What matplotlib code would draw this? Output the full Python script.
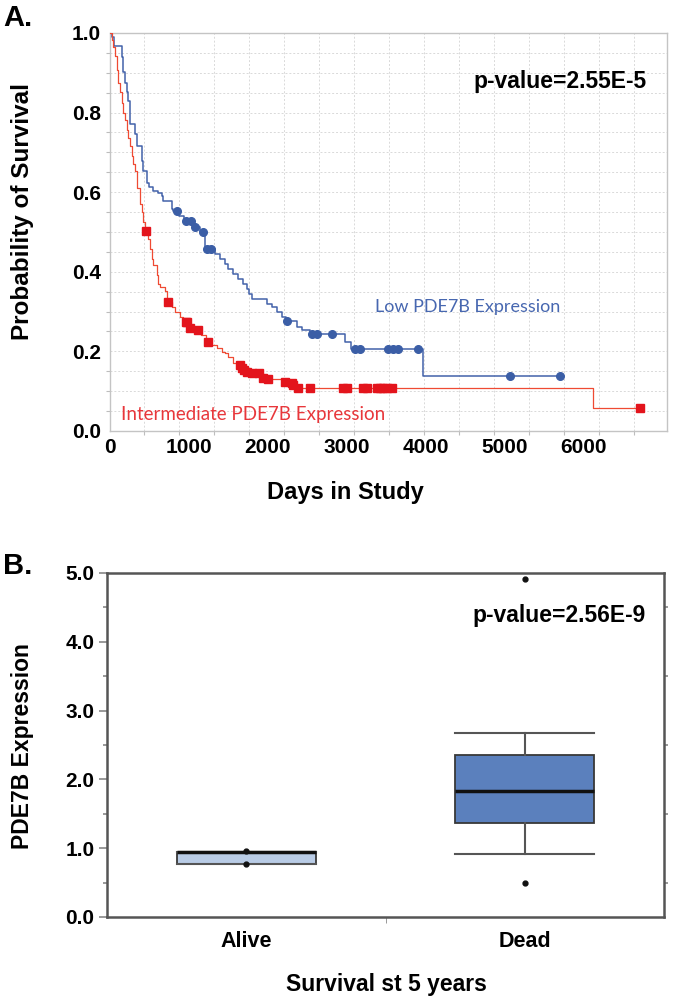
import matplotlib
matplotlib.use("Agg")
import matplotlib.pyplot as plt
from matplotlib.ticker import MultipleLocator, FixedLocator
import numpy as np

# ---------------- data ----------------
# Panel A: Kaplan-Meier step curves (days, survival after step)
low_t = [0, 27, 53, 154, 168, 199, 222, 239, 260, 323, 353, 408, 428, 470, 496, 555, 618, 660, 681, 787,
         808, 886, 939, 1063, 1143, 1209, 1335, 1399, 1462, 1504, 1567, 1630, 1694, 1737, 1772, 1799, 1989,
         2053, 2116, 2180, 2233, 2369, 2432, 2538, 2981, 3057, 3964]
low_s = [1.0, 0.99, 0.9675, 0.94, 0.903, 0.875, 0.853, 0.83, 0.7725, 0.745, 0.717, 0.678, 0.653, 0.624, 0.612,
         0.603, 0.599, 0.591, 0.578, 0.5575, 0.552, 0.54, 0.527, 0.513, 0.501, 0.4575, 0.445, 0.4325, 0.42,
         0.4075, 0.395, 0.3825, 0.37, 0.3575, 0.345, 0.3325, 0.32, 0.312, 0.299, 0.287, 0.276, 0.262, 0.253,
         0.244, 0.224, 0.205, 0.138]
low_cens_t = [851, 968, 1028, 1082, 1187, 1230, 1285, 2250, 2559, 2623, 2812, 3107, 3171, 3529, 3593, 3656,
              3907, 5069, 5702]

int_t = [0, 27, 49, 70, 90, 112, 133, 154, 175, 196, 217, 238, 260, 281, 301, 323, 344, 354, 386, 408,
         428, 447, 492, 513, 533, 555, 597, 618, 639, 703, 727, 787, 829, 892, 935, 957, 1010, 1090, 1152,
         1223, 1272, 1356, 1418, 1462, 1504, 1567, 1610, 1666, 1692, 1737, 1790, 1940, 1994, 2197, 2295,
         2321, 2383, 6116]
int_s = [1.0, 0.9825, 0.966, 0.941, 0.9075, 0.874, 0.853, 0.824, 0.799, 0.7825, 0.7575, 0.737, 0.716, 0.691,
         0.67, 0.653, 0.6325, 0.61, 0.57, 0.55, 0.524, 0.503, 0.4825, 0.4575, 0.4325, 0.416, 0.391, 0.37,
         0.362, 0.353, 0.324, 0.312, 0.299, 0.287, 0.278, 0.274, 0.26, 0.255, 0.24, 0.2225, 0.216, 0.2075,
         0.199, 0.195, 0.187, 0.17, 0.166, 0.159, 0.153, 0.149, 0.145, 0.1325, 0.131, 0.124, 0.12, 0.116,
         0.109, 0.0575]
int_cens_t = [458, 744, 968, 985, 1019, 1124, 1242, 1652, 1673, 1702, 1745, 1807, 1893, 1947, 2010, 2221,
              2305, 2327, 2390, 2538, 2959, 3002, 3213, 3255, 3382, 3424, 3466, 3509, 3571, 6715]

km_xticks = [0, 1000, 2000, 3000, 4000, 5000, 6000]
km_yticks = [0.0, 0.2, 0.4, 0.6, 0.8, 1.0]
km_pvalue = "p-value=2.55E-5"
low_label = "Low PDE7B Expression"
int_label = "Intermediate PDE7B Expression"

# Panel B: box plot summary statistics
groups = ["Alive", "Dead"]
box_q1 = [0.77, 1.36]
box_med = [0.94, 1.825]
box_q3 = [0.95, 2.355]
box_whislo = [0.77, 0.915]
box_whishi = [0.95, 2.668]
box_points = [[0.96, 0.77], [4.92, 0.498]]
box_yticks = [0, 1, 2, 3, 4, 5]
box_pvalue = "p-value=2.56E-9"

# ---------------- figure ----------------
W, H = 673, 1001
fig = plt.figure(figsize=(W / 100, H / 100), dpi=100)
BOLD = dict(family=["Liberation Sans", "DejaVu Sans"], weight="bold")


def rect(l, t, r, b):
    return [l / W, 1 - b / H, (r - l) / W, (b - t) / H]


def ftext(x, y, s, **kw):
    return fig.text(x / W, 1 - y / H, s, **kw)


# ---------------- Panel A ----------------
axA = fig.add_axes(rect(109.5, 33, 667, 431))
blue_line = "#4262aa"
blue_dot = "#3b5ea6"
red_line = "#ef4a33"
red_sq = "#e3141c"


def step_at(t, s, q):
    idx = np.searchsorted(np.asarray(t), np.asarray(q), side="right") - 1
    return np.asarray(s)[idx]


lt = list(low_t) + [low_cens_t[-1]]
ls = list(low_s) + [low_s[-1]]
axA.step(lt, ls, where="post", color=blue_line, lw=1.1, zorder=3)
axA.plot(low_cens_t, step_at(low_t, low_s, low_cens_t), "o", color=blue_dot, ms=5.5, mec=blue_dot, zorder=4)

it = list(int_t) + [int_cens_t[-1]]
is_ = list(int_s) + [int_s[-1]]
axA.step(it, is_, where="post", color=red_line, lw=0.9, zorder=3)
axA.plot(int_cens_t, step_at(int_t, int_s, int_cens_t), "s", color=red_sq, ms=5.5, mec=red_sq, zorder=4)

axA.set_xlim(0, 7057)
axA.set_ylim(0, 1.0)
axA.xaxis.set_major_locator(FixedLocator(km_xticks))
axA.set_xticklabels([str(v) for v in km_xticks], fontsize=15, **BOLD)
axA.xaxis.set_minor_locator(MultipleLocator(443))
axA.yaxis.set_major_locator(FixedLocator(km_yticks))
axA.set_yticklabels([f"{v:.1f}" for v in km_yticks], fontsize=15, **BOLD)
axA.yaxis.set_minor_locator(MultipleLocator(0.05))
axA.tick_params(which="major", length=0, pad=6)
axA.tick_params(axis="x", which="major", pad=5)
axA.tick_params(which="minor", length=3, color="#bdbdbd", width=0.8)
axA.grid(which="minor", color="#d9d9d9", ls=(0, (2, 2)), lw=0.7)
axA.grid(which="major", axis="y", color="#d9d9d9", ls=(0, (2, 2)), lw=0.7)
for sp in axA.spines.values():
    sp.set_color("#c4c4c4")
    sp.set_linewidth(1.0)

ftext(473, 88, km_pvalue, fontsize=16.5, va="baseline", ha="left", **BOLD)
ftext(375, 312, low_label, fontsize=13, color="#4767b0", va="baseline", ha="left",
      family=["Lato", "DejaVu Sans"])
ftext(121, 420, int_label, fontsize=13.5, color="#e8373b", va="baseline", ha="left",
      family=["Lato", "DejaVu Sans"])
ftext(23, 212, "Probability of Survival", fontsize=17.5, rotation=90, va="center", ha="center", **BOLD)
ftext(345, 492, "Days in Study", fontsize=17, va="center", ha="center", **BOLD)
ftext(3, 26, "A.", fontsize=21, va="baseline", ha="left", **BOLD)

# ---------------- Panel B ----------------
axB = fig.add_axes(rect(107, 573, 664, 917))
stats = []
for i, g in enumerate(groups):
    stats.append(dict(label=g, q1=box_q1[i], med=box_med[i], q3=box_q3[i],
                      whislo=box_whislo[i], whishi=box_whishi[i], fliers=[]))
bp = axB.bxp(stats, positions=[1, 2], widths=0.5, capwidths=0.5, patch_artist=True, showfliers=False,
             boxprops=dict(edgecolor="#383838", linewidth=1.3),
             medianprops=dict(color="#111111", linewidth=2.5),
             whiskerprops=dict(color="#555555", linewidth=1.5),
             capprops=dict(color="#555555", linewidth=1.5))
for patch, fc in zip(bp["boxes"], ["#b9cce6", "#5b80bd"]):
    patch.set_facecolor(fc)
for i, pts in enumerate(box_points):
    axB.plot([i + 1] * len(pts), pts, "o", color="#111111", ms=3.5, zorder=5)

axB.set_xlim(0.5, 2.5)
axB.set_ylim(0, 5)
axB.xaxis.set_major_locator(FixedLocator([1, 2]))
axB.set_xticklabels(groups, fontsize=15.5, **BOLD)
axB.xaxis.set_minor_locator(FixedLocator([1.5]))
axB.tick_params(axis="x", which="major", length=0, pad=10)
axB.tick_params(axis="x", which="minor", length=4, color="#888888")
axB.yaxis.set_major_locator(FixedLocator(box_yticks))
axB.set_yticklabels([f"{v:.1f}" for v in box_yticks], fontsize=15, **BOLD)
axB.yaxis.set_minor_locator(MultipleLocator(0.5))
axB.tick_params(axis="y", which="both", length=6, color="#888888", width=1.2, pad=3)
axB.tick_params(axis="y", which="minor", right=True, length=3)
for sp in axB.spines.values():
    sp.set_color("#555555")
    sp.set_linewidth(1.8)

ftext(472, 622, box_pvalue, fontsize=16.5, va="baseline", ha="left", **BOLD)
ftext(23, 746, "PDE7B Expression", fontsize=16.5, rotation=90, va="center", ha="center", **BOLD)
ftext(386, 985, "Survival st 5 years", fontsize=16.5, va="center", ha="center", **BOLD)
ftext(3, 574, "B.", fontsize=21, va="baseline", ha="left", **BOLD)

fig.savefig("out.png", dpi=100)
